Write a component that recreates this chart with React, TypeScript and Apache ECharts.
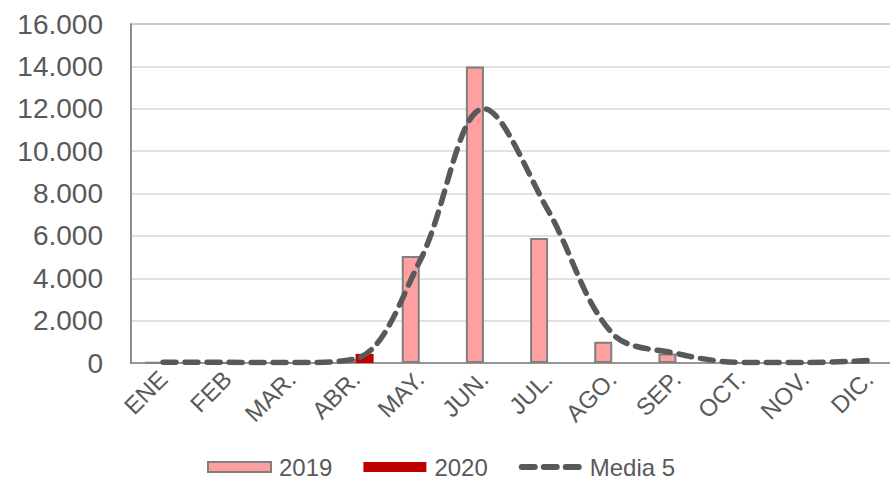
import React, { useEffect, useRef } from "react";
import * as echarts from "echarts";

const categories = ["ENE", "FEB", "MAR.", "ABR.", "MAY.", "JUN.", "JUL.", "AGO.", "SEP.", "OCT.", "NOV.", "DIC."];
const values2019 = [20, 10, 10, 180, 5050, 14000, 5900, 1000, 450, 0, 0, 0];
const values2020 = [0, 0, 0, 430, 0, 0, 0, 0, 0, 0, 0, 0];
const media5 = [30, 30, 20, 200, 4800, 12000, 7200, 1400, 450, 30, 20, 120];
const yTicks = { min: 0, max: 16000, interval: 2000 };

function fmt(v: number): string {
  const s = Math.round(v).toString();
  return s.replace(/\B(?=(\d{3})+(?!\d))/g, ".");
}

const dashIcon =
  "path://M0,0h0.01v0.01h-0.01z M0,10h0.01v0.01h-0.01z M1,2h13a3,3 0 0 1 0,6h-13a3,3 0 0 1 0,-6z M23,2h13a3,3 0 0 1 0,6h-13a3,3 0 0 1 0,-6z M45,2h13a3,3 0 0 1 0,6h-13a3,3 0 0 1 0,-6z M61,0h0.01v0.01h-0.01z";

export default function App() {
  const ref = useRef<HTMLDivElement>(null);
  useEffect(() => {
    if (!ref.current) return;
    const chart = echarts.init(ref.current, undefined, { renderer: "svg" });
    const font = "Liberation Sans";
    chart.setOption({
      animation: false,
      textStyle: { fontFamily: font },
      grid: {
        left: 131,
        top: 24,
        right: 4,
        height: 339,
        show: true,
        borderColor: "#868686",
        borderWidth: 1.5,
        containLabel: false,
      },
      legend: {
        left: 207,
        top: 455,
        padding: 0,
        itemWidth: 63,
        itemHeight: 10,
        itemGap: 31,
        textStyle: { fontSize: 24, lineHeight: 24, color: "#595959", fontFamily: font, padding: [0, 0, 0, 3] },
        data: [
          { name: "2019", icon: "rect" },
          { name: "2020", icon: "rect" },
          { name: "Media 5", icon: dashIcon, itemStyle: { color: "#595959", borderWidth: 0 } },
        ],
      },
      xAxis: {
        type: "category",
        data: categories,
        axisLine: { show: true, lineStyle: { color: "#868686", width: 1.5 } },
        axisTick: { show: false },
        axisLabel: {
          rotate: 45,
          interval: 0,
          fontSize: 24,
          color: "#595959",
          margin: 12,
          fontFamily: font,
        },
      },
      yAxis: {
        type: "value",
        min: yTicks.min,
        max: yTicks.max,
        interval: yTicks.interval,
        axisLine: { show: true, lineStyle: { color: "#868686", width: 1.5 } },
        axisTick: { show: false },
        splitLine: { lineStyle: { color: "#d9d9d9", width: 1.5 } },
        axisLabel: {
          fontSize: 28,
          color: "#595959",
          margin: 28,
          fontFamily: font,
          formatter: (v: number) => fmt(v),
        },
      },
      series: [
        {
          name: "2019",
          type: "bar",
          data: values2019,
          barWidth: 18,
          barGap: "0%",
          itemStyle: { color: "#FF9F9F", borderColor: "#7F7F7F", borderWidth: 2 },
        },
        {
          name: "2020",
          type: "bar",
          data: values2020,
          barWidth: 18,
          barGap: "0%",
          itemStyle: { color: "#C00000" },
        },
        {
          name: "Media 5",
          type: "line",
          data: media5,
          smooth: 0.35,
          symbol: "none",
          lineStyle: { color: "#595959", width: 5.5, type: [13, 9], cap: "round" },
          itemStyle: { color: "#595959" },
        },
      ],
    });
    return () => chart.dispose();
  }, []);
  return (
    <div style={{ position: "absolute", left: 0, top: 0, width: 890, height: 480, overflow: "hidden" }}>
      <div ref={ref} style={{ width: 905, height: 480 }} />
    </div>
  );
}
